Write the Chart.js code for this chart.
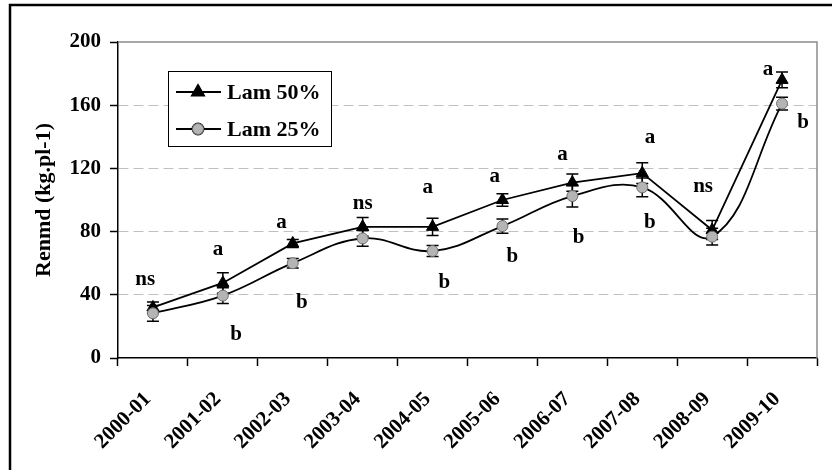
<!DOCTYPE html>
<html>
<head>
<meta charset="utf-8">
<script src="https://cdn.jsdelivr.net/npm/chart.js@4"></script>
<style>
html, body { margin: 0; padding: 0; background: #fff; }
#wrap { position: relative; width: 832px; height: 470px; }
</style>
</head>
<body>
<div id="wrap"><canvas id="yieldChart" width="832" height="470"></canvas></div>
<script>
const seasons = ['2000-01', '2001-02', '2002-03', '2003-04', '2004-05', '2005-06', '2006-07', '2007-08', '2008-09', '2009-10'];
const lam50 = [32, 47.5, 72.5, 83, 83, 100, 111, 117, 81, 176];
const lam50Err = [3.5, 6.5, 2.5, 6, 5.5, 4, 5.5, 6.5, 6, 5];
const lam25 = [28.3, 39.5, 60, 75.7, 67.7, 83.5, 102.5, 108, 76.8, 161];
const lam25Err = [5, 5, 3, 5, 3.5, 4.5, 7, 6, 5.3, 4];
const yTicks = [0, 40, 80, 120, 160, 200];

// significance letters (value where the letter sits, shift in categories)
const topLetters = ['ns', 'a', 'a', 'ns', 'a', 'a', 'a', 'a', 'ns', 'a'];
const topLetterY = [49.4, 68.4, 85.4, 98, 107.6, 114.6, 128.5, 139.2, 108.2, 182.3];
const topLetterShift = [-0.11, -0.07, -0.16, 0, -0.07, -0.11, -0.14, 0.11, -0.13, -0.2];
const bottomLetters = ['', 'b', 'b', '', 'b', 'b', 'b', 'b', '', 'b'];
const bottomLetterY = [0, 14.6, 34.8, 0, 47.5, 64, 76, 85.4, 0, 148.7];
const bottomLetterShift = [0, 0.19, 0.13, 0, 0.17, 0.14, 0.09, 0.11, 0, 0.3];

const FONT = '"Liberation Serif", "Times New Roman", serif';

const errorBars = {
    id: 'errorBars',
    beforeDatasetsDraw(chart) {
        const { ctx, chartArea, scales: { x, y } } = chart;
        // plot frame (top / right in grey)
        ctx.save();
        ctx.strokeStyle = '#8c8c8c';
        ctx.lineWidth = 1.5;
        ctx.beginPath();
        ctx.moveTo(chartArea.left, chartArea.top);
        ctx.lineTo(chartArea.right, chartArea.top);
        ctx.lineTo(chartArea.right, chartArea.bottom);
        ctx.stroke();

        ctx.strokeStyle = '#000';
        ctx.lineWidth = 1.5;
        const sets = [[lam50, lam50Err], [lam25, lam25Err]];
        sets.forEach(([vals, errs]) => {
            vals.forEach((v, i) => {
                const px = x.getPixelForValue(i);
                const top = y.getPixelForValue(v + errs[i]);
                const bot = y.getPixelForValue(v - errs[i]);
                ctx.beginPath();
                ctx.moveTo(px, top);
                ctx.lineTo(px, bot);
                ctx.moveTo(px - 6, top);
                ctx.lineTo(px + 6, top);
                ctx.moveTo(px - 6, bot);
                ctx.lineTo(px + 6, bot);
                ctx.stroke();
            });
        });
        ctx.restore();
    },
    afterDraw(chart) {
        const { ctx, scales: { x, y } } = chart;
        ctx.save();
        ctx.fillStyle = '#000';
        ctx.font = 'bold 21px ' + FONT;
        ctx.textAlign = 'center';
        ctx.textBaseline = 'middle';
        topLetters.forEach((t, i) => {
            if (!t) return;
            ctx.fillText(t, x.getPixelForValue(i + topLetterShift[i]), y.getPixelForValue(topLetterY[i]));
        });
        bottomLetters.forEach((t, i) => {
            if (!t) return;
            ctx.fillText(t, x.getPixelForValue(i + bottomLetterShift[i]), y.getPixelForValue(bottomLetterY[i]));
        });

        // legend box
        const lx = 168, ly = 71, lw = 163, lh = 75;
        ctx.fillStyle = '#fff';
        ctx.fillRect(lx, ly, lw, lh);
        ctx.strokeStyle = '#000';
        ctx.lineWidth = 1;
        ctx.strokeRect(lx + 0.5, ly + 0.5, lw, lh);
        chart.data.datasets.forEach((ds, k) => {
            const cy = ly + 21 + k * 37;
            ctx.strokeStyle = '#000';
            ctx.lineWidth = 1.8;
            ctx.beginPath();
            ctx.moveTo(lx + 8, cy);
            ctx.lineTo(lx + 53, cy);
            ctx.stroke();
            Chart.helpers.drawPoint(ctx, {
                pointStyle: ds.pointStyle,
                radius: ds.pointRadius,
                borderWidth: ds.pointBorderWidth
            }, lx + 30, cy);
            ctx.fillStyle = ds.pointBackgroundColor;
            ctx.strokeStyle = ds.pointBorderColor;
            ctx.lineWidth = ds.pointBorderWidth;
            ctx.fill();
            ctx.stroke();
            ctx.fillStyle = '#000';
            ctx.textAlign = 'left';
            ctx.font = 'bold 22px ' + FONT;
            ctx.fillText(ds.label, lx + 59, cy + 1);
        });
        ctx.restore();
    },
    beforeDraw(chart) {
        const { ctx, width, height } = chart;
        ctx.save();
        ctx.fillStyle = '#fff';
        ctx.fillRect(0, 0, width, height);
        ctx.strokeStyle = '#000';
        ctx.lineWidth = 2.5;
        ctx.beginPath();
        ctx.moveTo(10, height);
        ctx.lineTo(10, 5);
        ctx.lineTo(width, 5);
        ctx.stroke();
        ctx.restore();
    }
};

new Chart(document.getElementById('yieldChart'), {
    type: 'line',
    data: {
        labels: seasons,
        datasets: [{
            label: 'Lam 50%',
            data: lam50,
            borderColor: '#000',
            borderWidth: 1.8,
            tension: 0,
            pointStyle: 'triangle',
            pointRadius: 7,
            pointBackgroundColor: '#000',
            pointBorderColor: '#000',
            pointBorderWidth: 1,
            order: 1
        }, {
            label: 'Lam 25%',
            data: lam25,
            borderColor: '#000',
            borderWidth: 1.8,
            tension: 0.4,
            pointStyle: 'circle',
            pointRadius: 5.5,
            pointBackgroundColor: '#b4b4b4',
            pointBorderColor: '#707070',
            pointBorderWidth: 1,
            order: 0
        }]
    },
    options: {
        responsive: false,
        animation: false,
        layout: { padding: { top: 42, right: 15, left: 0, bottom: 0 } },
        plugins: {
            legend: { display: false },
            tooltip: { enabled: false },
            title: { display: false }
        },
        scales: {
            x: {
                offset: true,
                grid: {
                    offset: true,
                    drawOnChartArea: false,
                    tickLength: 8,
                    tickColor: '#000',
                    tickWidth: 1.5
                },
                border: { color: '#000', width: 1.5 },
                ticks: {
                    autoSkip: false,
                    minRotation: 45,
                    maxRotation: 45,
                    padding: 21,
                    labelOffset: -5,
                    color: '#000',
                    font: { family: FONT, size: 21, weight: 'bold' }
                },
                afterFit: scale => { scale.height = 112; }
            },
            y: {
                min: 0,
                max: 200,
                afterBuildTicks: scale => { scale.ticks = yTicks.map(v => ({ value: v })); },
                grid: {
                    color: ctx => (ctx.tick && (ctx.tick.value === 0 || ctx.tick.value === 200)) ? 'rgba(0,0,0,0)' : '#c0c0c0',
                    lineWidth: 1,
                    tickLength: 8,
                    tickColor: '#000',
                    tickWidth: 1.5
                },
                border: { color: '#000', width: 1.5, dash: [10, 5] },
                ticks: {
                    padding: 9,
                    color: '#000',
                    font: { family: FONT, size: 21, weight: 'bold' }
                },
                title: {
                    display: true,
                    text: 'Renmd (kg.pl-1)',
                    color: '#000',
                    padding: { top: 31, bottom: 0 },
                    font: { family: FONT, size: 22, weight: 'bold' }
                },
                afterFit: scale => { scale.width = 118; }
            }
        }
    },
    plugins: [errorBars]
});
</script>
</body>
</html>
